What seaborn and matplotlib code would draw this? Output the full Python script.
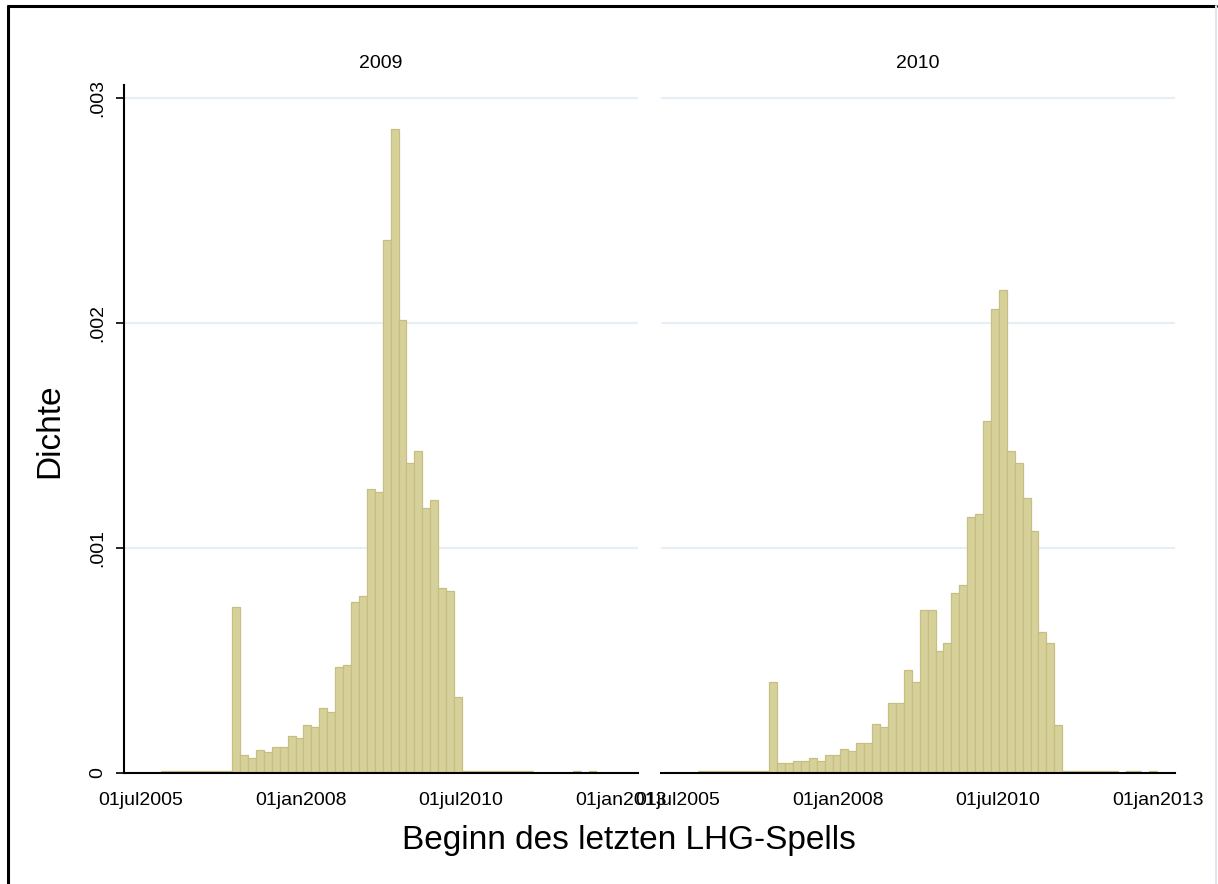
import numpy as np
import pandas as pd
import matplotlib
matplotlib.use("Agg")
import matplotlib.pyplot as plt
import matplotlib.dates as mdates
from matplotlib.lines import Line2D
import seaborn as sns

# ---------------- data ----------------
panels = ["2009", "2010"]
bin_start = "2005-10-26"        # left edge of first bin
bin_width_days = 45.2           # width of each bin in days
n_bins = 58

dens_2009 = [
    0.000007, 0.000007, 0.000007, 0.000007, 0.000007, 0.000007, 0.000007, 0.000007, 0.000007,
    0.000737, 0.000080, 0.000068, 0.000102, 0.000095, 0.000117, 0.000117, 0.000165, 0.000154,
    0.000214, 0.000206, 0.000288, 0.000273, 0.000470, 0.000481, 0.000762, 0.000789, 0.001263,
    0.001248, 0.002369, 0.002866, 0.002016, 0.001381, 0.001430, 0.001178, 0.001212, 0.000822,
    0.000811, 0.000337,
    0.000007, 0.000007, 0.000007, 0.000007, 0.000007, 0.000007, 0.000007, 0.000007, 0.000007,
    0.0, 0.0, 0.0, 0.0, 0.0,
    0.000010, 0.0, 0.000010, 0.0, 0.0, 0.0,
]
dens_2010 = [
    0.000008, 0.000008, 0.000008, 0.000008, 0.000008, 0.000008, 0.000008, 0.000008, 0.000008,
    0.000406, 0.000043, 0.000043, 0.000055, 0.000055, 0.000068, 0.000055, 0.000080, 0.000080,
    0.000105, 0.000097, 0.000132, 0.000132, 0.000217, 0.000203, 0.000313, 0.000313, 0.000458,
    0.000406, 0.000725, 0.000725, 0.000543, 0.000580, 0.000800, 0.000837, 0.001138, 0.001151,
    0.001564, 0.002064, 0.002150, 0.001430, 0.001381, 0.001222, 0.001077, 0.000629, 0.000580,
    0.000214,
    0.000007, 0.000007, 0.000007, 0.000007, 0.000007, 0.000007, 0.000007,
    0.0, 0.000010, 0.000010, 0.0, 0.000010,
]

xtick_dates = ["2005-07-01", "2008-01-01", "2010-07-01", "2013-01-01"]
xtick_labels = ["01jul2005", "01jan2008", "01jul2010", "01jan2013"]
ytick_vals = [0, 0.001, 0.002, 0.003]
ytick_labels = ["0", ".001", ".002", ".003"]

x_title = "Beginn des letzten LHG-Spells"
y_title = "Dichte"

# ---------------- build bins ----------------
start_num = float(mdates.date2num(pd.Timestamp(bin_start)))
edges = start_num + bin_width_days * np.arange(n_bins + 1)
centers = (edges[:-1] + edges[1:]) / 2

df = pd.DataFrame({
    "panel": np.repeat(panels, n_bins),
    "x": np.tile(centers, 2),
    "dens": dens_2009 + dens_2010,
})

xt = [float(mdates.date2num(pd.Timestamp(d))) for d in xtick_dates]
xlim = (xt[0] - 94, xt[0] + 2840)

# ---------------- figure ----------------
sns.set_style("white")
plt.rcParams["font.family"] = ["Liberation Sans", "DejaVu Sans"]
plt.rcParams["text.color"] = "black"
plt.rcParams["xtick.color"] = "black"
plt.rcParams["ytick.color"] = "black"
plt.rcParams["xtick.labelcolor"] = "black"
plt.rcParams["ytick.labelcolor"] = "black"

W, H = 1218, 884
fig = plt.figure(figsize=(W / 100, H / 100), dpi=100)
fig.patch.set_facecolor("white")

def px_axes(x0, x1, y0, y1):
    return fig.add_axes([x0 / W, 1 - y1 / H, (x1 - x0) / W, (y1 - y0) / H])

ax_l = px_axes(124, 638, 85, 773)
ax_r = px_axes(661, 1175, 85, 773)

fill = "#d6d19b"
edge = "#c7be80"
grid_c = "#e8eef5"

for ax, p in zip([ax_l, ax_r], panels):
    sub = df[df["panel"] == p]
    for yv in ytick_vals[1:]:
        ax.axhline(yv, color=grid_c, lw=1.6, zorder=0)
    sns.histplot(data=sub, x="x", weights="dens",
                 binwidth=bin_width_days, binrange=(float(edges[0]), float(edges[-1])),
                 stat="count", color=fill, edgecolor=edge, linewidth=0.9,
                 alpha=1.0, ax=ax, zorder=2)
    ax.set_xlim(*xlim)
    ax.set_ylim(0, 0.00306)
    ax.set_xticks(xt)
    ax.set_xticklabels(xtick_labels, fontsize=14, color="black")
    ax.tick_params(axis="x", length=5.5, width=1.2, pad=8, colors="black")
    ax.set_xlabel("")
    ax.set_ylabel("")
    for s in ["top", "right"]:
        ax.spines[s].set_visible(False)
    ax.spines["bottom"].set_color("black")
    ax.spines["bottom"].set_linewidth(1.5)
    ax.set_facecolor("white")

ax_l.set_yticks(ytick_vals)
ax_l.set_yticklabels(ytick_labels, fontsize=14, rotation=90, va="center", color="black")
ax_l.tick_params(axis="y", length=5.5, width=1.2, pad=7, colors="black", left=True)
ax_l.spines["left"].set_color("black")
ax_l.spines["left"].set_linewidth(1.5)

ax_r.spines["left"].set_visible(False)
ax_r.set_yticks(ytick_vals)
ax_r.tick_params(axis="y", length=0, labelleft=False)

# panel titles
fig.text(381 / W, 1 - 63 / H, panels[0], ha="center", va="center", fontsize=14, color="black")
fig.text(918 / W, 1 - 63 / H, panels[1], ha="center", va="center", fontsize=14, color="black")

# axis titles
fig.text(629 / W, 1 - 840 / H, x_title, ha="center", va="center", fontsize=24, color="black")
fig.text(50 / W, 1 - 431 / H, y_title, ha="center", va="center", fontsize=24, rotation=90,
         color="black")

# outer frame (left and top black, right light)
fig.add_artist(Line2D([7.5 / W, 7.5 / W], [0, 1 - 6 / H], color="black", lw=2.2))
fig.add_artist(Line2D([7.5 / W, 1216 / W], [1 - 6 / H, 1 - 6 / H], color="black", lw=2.2))
fig.add_artist(Line2D([1216 / W, 1216 / W], [0, 1 - 6 / H], color="#e4e4ee", lw=1.5))

fig.savefig("out.png", dpi=100)
